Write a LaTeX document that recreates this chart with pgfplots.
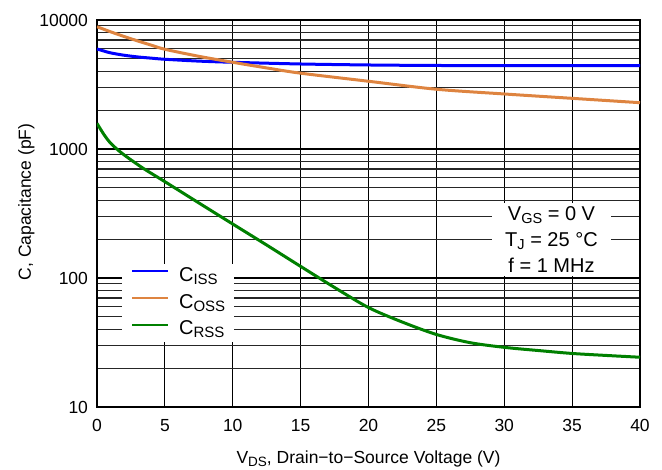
\documentclass[border=0pt]{standalone}
\usepackage{fontspec}
\setmainfont{Liberation Sans}
\usepackage{pgfplots}
\pgfplotsset{compat=1.18}
\definecolor{cblue}{RGB}{0,0,255}
\definecolor{corange}{RGB}{222,132,64}
\definecolor{cgreen}{RGB}{0,128,0}
\newcommand\sub[1]{\raisebox{-0.3ex}{\fontsize{13.5}{13.5}\selectfont #1}}
\newcommand\lsub[1]{\raisebox{-0.3ex}{\fontsize{15}{15}\selectfont #1}}
\newcommand\asub[1]{\raisebox{-0.3ex}{\fontsize{14.5}{14.5}\selectfont #1}}
\begin{document}
\begin{tikzpicture}
\begin{axis}[
 scale only axis, width=543pt, height=387pt,
 ymode=log, xmin=0, xmax=40, ymin=10, ymax=10000,
 xtick={0,5,10,15,20,25,30,35,40}, xticklabels={0,5,10,15,20,25,30,35,40},
 ytick={10,100,1000,10000}, yticklabels={10,100,1000,10000},
 minor ytick={20,30,40,50,60,70,80,90,200,300,400,500,600,700,800,900,2000,3000,4000,5000,6000,7000,8000,9000},
 grid=both,
 major grid style={black, line width=1.2pt},
 minor grid style={black!85, line width=1.2pt},
 axis line style={line width=2pt},
 major tick length=0pt, minor tick length=0pt,
 tick label style={font=\fontsize{17.5}{20}\selectfont},
 xticklabel style={yshift=-9pt}, yticklabel style={xshift=-5.5pt},
 xlabel={V\sub{DS}, Drain−to−Source Voltage (V)},
 ylabel={C, Capacitance (pF)},
 label style={font=\fontsize{17.5}{20}\selectfont},
 xlabel style={at={(axis description cs:0.5,-0.135)}, anchor=center},
 ylabel style={at={(axis description cs:-0.13,0.53)}, anchor=center},
 legend style={at={(rel axis cs:0.0455,0.168)}, anchor=south west, draw=none, fill=white,
   font=\fontsize{20}{24}\selectfont, row sep=8.7pt, column sep=10pt,
   nodes={inner sep=0pt, text height=14pt, text depth=4pt},
   inner xsep=9pt, inner ysep=3pt},
 legend cell align=left,
 legend image code/.code={\draw[#1, line width=2.2pt] (0pt,5pt) -- (36pt,5pt);},
]
\addplot[cblue, line width=3pt, smooth] coordinates {
(0,5960) (0.5,5750) (1,5560) (2,5330) (3,5170) (4,5060) (5,4960) (7.5,4800) (10,4700) (15,4560) (20,4480) (25,4440) (30,4430) (35,4425) (40,4420)};
\addlegendentry{C\lsub{ISS}}
\addplot[corange, line width=3pt, smooth] coordinates {
(0,8870) (1,8100) (2,7450) (3,6880) (4,6380) (5,5930) (7.5,5230) (10,4700) (12.5,4250) (15,3870) (20,3350) (25,2905) (30,2670) (35,2470) (40,2285)};
\addlegendentry{C\lsub{OSS}\hspace{20pt}}
\addplot[cgreen, line width=3pt, smooth] coordinates {
(0,1580) (0.5,1300) (1,1110) (1.7,952) (2.5,824) (3.5,698) (5,558) (7.5,382) (10,262) (12.5,180) (15,123) (17.5,84.4) (20,59) (22.5,45.5) (25,36.5) (27.5,31.5) (30,29) (32.5,27.4) (35,26) (37.5,25.1) (40,24.3)};
\addlegendentry{C\lsub{RSS}}
\node[fill=white, align=center, font=\fontsize{20}{26}\selectfont, inner sep=0pt,
  minimum width=119pt, minimum height=73pt]
  at (rel axis cs:0.837,0.433) {V\asub{GS} = 0 V\\T\asub{J} = 25 °C\\f = 1 MHz};
\end{axis}
\path (current axis.south west) ++(-97pt,-63pt) coordinate (bbA);
\path (current axis.north east) ++(22pt,20pt) coordinate (bbB);
\pgfresetboundingbox
\path (bbA) rectangle (bbB);
\end{tikzpicture}
\end{document}
